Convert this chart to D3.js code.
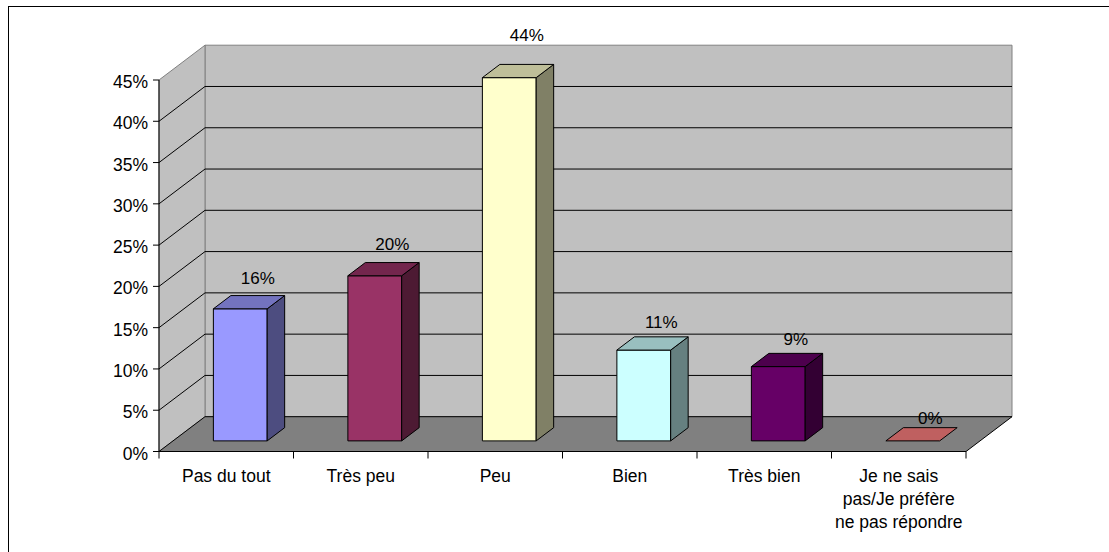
<!DOCTYPE html>
<html>
<head>
<meta charset="utf-8">
<script src="https://cdn.jsdelivr.net/npm/d3@7"></script>
<style>
  html, body { margin: 0; padding: 0; background: #fff; }
  svg text { font-family: Arial, "Liberation Sans", sans-serif; fill: #000; }
</style>
</head>
<body>
<svg id="chart" width="1109" height="552"></svg>
<script>
// Survey answers and their shares (%)
const categories = [
  "Pas du tout",
  "Très peu",
  "Peu",
  "Bien",
  "Très bien",
  "Je ne sais pas/Je préfère ne pas répondre"
];
const categoryLines = [
  ["Pas du tout"],
  ["Très peu"],
  ["Peu"],
  ["Bien"],
  ["Très bien"],
  ["Je ne sais", "pas/Je préfère", "ne pas répondre"]
];
const values = [16, 20, 44, 11, 9, 0];
const barColors = ["#9999FF", "#993366", "#FFFFCC", "#CCFFFF", "#660066", "#FF8080"];
const yTicks = [0, 5, 10, 15, 20, 25, 30, 35, 40, 45];

const svg = d3.select("#chart");

// Frame around the chart area
svg.append("rect")
  .attr("x", 8.5).attr("y", 6.5)
  .attr("width", 1200).attr("height", 700)
  .attr("fill", "#fff").attr("stroke", "#000").attr("stroke-width", 1);

// 3D geometry: front plane scales plus an oblique depth offset
const left = 159, right = 966;
const DX = 46, DY = -34.8;
const x = d3.scaleBand().domain(categories).range([left, right]).padding(0);
const y = d3.scaleLinear().domain([0, 45]).range([451.5, 80]);
const bw = x.bandwidth();
const barW = bw / 2.5;            // gap width 150 %
const d0 = 0.305, d1 = 0.685;     // bar front / back depth fractions

const P = (px, v, d) => [px + d * DX, y(v) + d * DY];
const poly = pts => pts.map(p => p.join(",")).join(" ");
const shade = (c, k) => { const r = d3.rgb(c); return d3.rgb(r.r * k, r.g * k, r.b * k).formatHex(); };

const yMax = yTicks[yTicks.length - 1];

// Back wall
svg.append("polygon")
  .attr("points", poly([P(left, 0, 1), P(right, 0, 1), P(right, yMax, 1), P(left, yMax, 1)]))
  .attr("fill", "#C0C0C0").attr("stroke", "#808080").attr("stroke-width", 1);

// Side wall
svg.append("polygon")
  .attr("points", poly([P(left, 0, 0), P(left, 0, 1), P(left, yMax, 1), P(left, yMax, 0)]))
  .attr("fill", "#C0C0C0").attr("stroke", "#808080").attr("stroke-width", 1);

// Gridlines on back and side walls
const grid = svg.append("g");
yTicks.filter(t => t > 0 && t < yMax).forEach(t => {
  const a = P(left, t, 0), b = P(left, t, 1), c = P(right, t, 1);
  grid.append("polyline")
    .attr("points", poly([a, b, c]))
    .attr("fill", "none").attr("stroke", "#000").attr("stroke-width", 1);
});

// Floor
svg.append("polygon")
  .attr("points", poly([P(left, 0, 0), P(right, 0, 0), P(right, 0, 1), P(left, 0, 1)]))
  .attr("fill", "#808080").attr("stroke", "#000").attr("stroke-width", 1);

// Bars (front, side, top faces)
const bars = svg.append("g");
categories.forEach((c, i) => {
  const v = values[i];
  const x0 = x(c) + (bw - barW) / 2, x1 = x0 + barW;
  const col = barColors[i];
  const g = bars.append("g").attr("stroke", "#000").attr("stroke-width", 1).attr("stroke-linejoin", "round");
  if (v > 0) {
    g.append("polygon")
      .attr("points", poly([P(x0, 0, d0), P(x1, 0, d0), P(x1, v, d0), P(x0, v, d0)]))
      .attr("fill", col);
    g.append("polygon")
      .attr("points", poly([P(x1, 0, d0), P(x1, 0, d1), P(x1, v, d1), P(x1, v, d0)]))
      .attr("fill", shade(col, 0.5));
  }
  g.append("polygon")
    .attr("points", poly([P(x0, v, d0), P(x1, v, d0), P(x1, v, d1), P(x0, v, d1)]))
    .attr("fill", shade(col, 0.75));

  // value label above the back of the bar
  const top = P((x0 + x1) / 2, v, d1);
  svg.append("text")
    .attr("x", top[0])
    .attr("y", top[1] - (10 + 0.45 * v) + 6)
    .attr("text-anchor", "middle")
    .attr("font-size", 17)
    .text(v + "%");
});

// Value axis
const yAxis = svg.append("g");
yAxis.append("line")
  .attr("x1", left).attr("x2", left).attr("y1", y(0)).attr("y2", y(yMax))
  .attr("stroke", "#000");
yTicks.forEach(t => {
  yAxis.append("line")
    .attr("x1", left - 6).attr("x2", left).attr("y1", y(t)).attr("y2", y(t))
    .attr("stroke", "#000");
  yAxis.append("text")
    .attr("x", left - 11).attr("y", y(t) + 8)
    .attr("text-anchor", "end")
    .attr("font-size", 17.5)
    .text(t + "%");
});

// Category axis
const xAxis = svg.append("g");
xAxis.append("line")
  .attr("x1", left).attr("x2", right).attr("y1", y(0)).attr("y2", y(0))
  .attr("stroke", "#000");
const edges = categories.map(c => x(c)).concat([right]);
edges.forEach(e => {
  xAxis.append("line")
    .attr("x1", e).attr("x2", e).attr("y1", y(0)).attr("y2", y(0) + 7)
    .attr("stroke", "#000");
});
categories.forEach((c, i) => {
  const t = xAxis.append("text")
    .attr("text-anchor", "middle")
    .attr("font-size", 17.5);
  categoryLines[i].forEach((line, j) => {
    t.append("tspan")
      .attr("x", x(c) + bw / 2)
      .attr("y", y(0) + 30 + j * 23)
      .text(line);
  });
});
</script>
</body>
</html>
